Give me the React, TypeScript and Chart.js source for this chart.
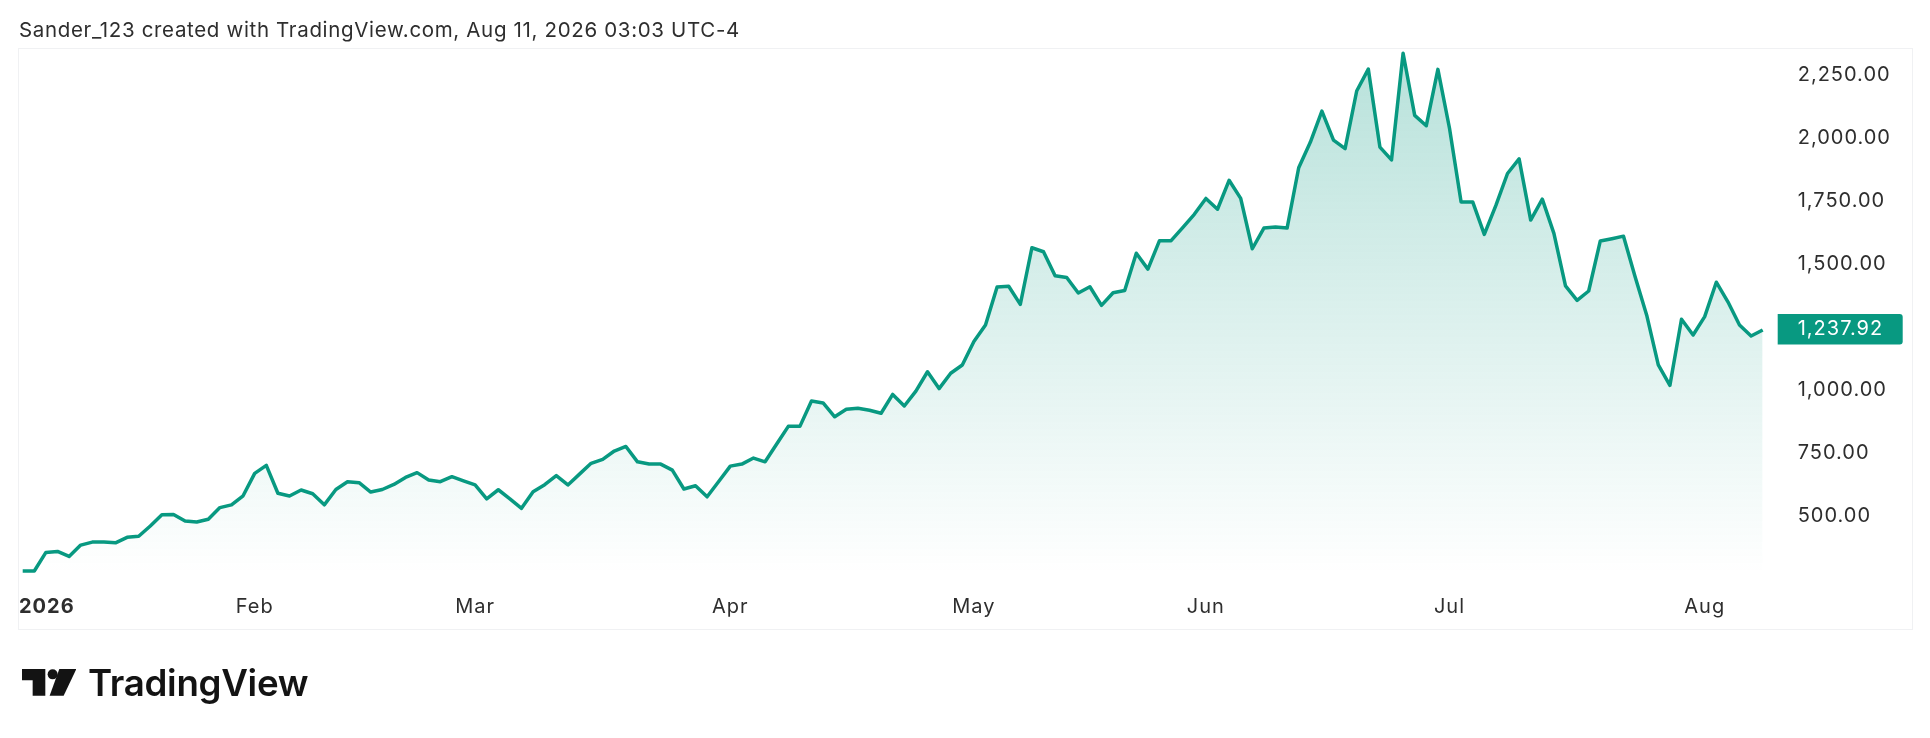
import React, { useEffect, useRef } from "react";
import Chart from "chart.js/auto";
import type { Plugin } from "chart.js";

// trading days, Jan 2 to Aug 10 2026
const tradingDays = [
  "01-02", "01-05", "01-06", "01-07", "01-08", "01-09", "01-12", "01-13", "01-14", "01-15", "01-16",
  "01-20", "01-21", "01-22", "01-23", "01-26", "01-27", "01-28", "01-29", "01-30",
  "02-02", "02-03", "02-04", "02-05", "02-06", "02-09", "02-10", "02-11", "02-12", "02-13",
  "02-17", "02-18", "02-19", "02-20", "02-23", "02-24", "02-25", "02-26", "02-27",
  "03-02", "03-03", "03-04", "03-05", "03-06", "03-09", "03-10", "03-11", "03-12", "03-13",
  "03-16", "03-17", "03-18", "03-19", "03-20", "03-23", "03-24", "03-25", "03-26", "03-27", "03-30", "03-31",
  "04-01", "04-02", "04-06", "04-07", "04-08", "04-09", "04-10", "04-13", "04-14", "04-15", "04-16", "04-17",
  "04-20", "04-21", "04-22", "04-23", "04-24", "04-27", "04-28", "04-29", "04-30",
  "05-01", "05-04", "05-05", "05-06", "05-07", "05-08", "05-11", "05-12", "05-13", "05-14", "05-15",
  "05-18", "05-19", "05-20", "05-21", "05-22", "05-26", "05-27", "05-28", "05-29",
  "06-01", "06-02", "06-03", "06-04", "06-05", "06-08", "06-09", "06-10", "06-11", "06-12",
  "06-15", "06-16", "06-17", "06-18", "06-22", "06-23", "06-24", "06-25", "06-26", "06-29", "06-30",
  "07-01", "07-02", "07-06", "07-07", "07-08", "07-09", "07-10", "07-13", "07-14", "07-15", "07-16", "07-17",
  "07-20", "07-21", "07-22", "07-23", "07-24", "07-27", "07-28", "07-29", "07-30", "07-31",
  "08-03", "08-04", "08-05", "08-06", "08-07", "08-10",
];

const closes = [
  280, 280, 354, 358, 338, 383, 395, 395, 392, 414, 418, 459, 504, 505, 479, 475, 486, 532, 543, 579,
  668, 700, 589, 578, 602, 587, 543, 604, 635, 631, 594, 604, 624, 652, 671, 642, 635, 655, 638, 622,
  567, 603, 567, 529, 595, 623, 659, 622, 665, 708, 724, 757, 775, 714, 705, 705, 681, 606, 619, 575,
  636, 697, 705, 729, 714, 785, 855, 855, 956, 948, 893, 923, 927, 919, 907, 982, 936, 995, 1072, 1005,
  1066, 1099, 1192, 1258, 1409, 1412, 1340, 1565, 1549, 1454, 1447, 1385, 1410, 1336, 1386, 1395, 1543, 1480, 1593, 1593,
  1645, 1698, 1761, 1718, 1833, 1761, 1561, 1643, 1647, 1643, 1883, 1984, 2108, 1993, 1959, 2188, 2275, 1965, 1914, 2338,
  2091, 2050, 2274, 2040, 1747, 1747, 1618, 1733, 1860, 1918, 1675, 1758, 1622, 1413, 1356, 1393, 1592, 1601, 1611, 1450,
  1297, 1099, 1018, 1281, 1218, 1291, 1428, 1350, 1258, 1214, 1237.92,
];

const yearLabel = "2026";
const monthTicks: Record<string, string> = {
  "02-02": "Feb",
  "03-02": "Mar",
  "04-01": "Apr",
  "05-01": "May",
  "06-01": "Jun",
  "07-01": "Jul",
  "08-03": "Aug",
};
const priceTicks = [500, 750, 1000, 1500, 1750, 2000, 2250];

const LINE = "#089981";
const TEXT = "#2e2e2e";
const FONT = "Inter, sans-serif";

const money = (v: number) =>
  v.toLocaleString("en-US", { minimumFractionDigits: 2, maximumFractionDigits: 2 });

// spaced out axis text, year label and last price tag
const axisExtras: Plugin<"line"> = {
  id: "axisExtras",
  beforeDraw(c) {
    (c.ctx as any).letterSpacing = "1px";
  },
  afterDraw(c) {
    const { ctx, chartArea } = c;
    const last = closes[closes.length - 1];
    const y = c.scales.y.getPixelForValue(last);
    ctx.save();
    ctx.fillStyle = LINE;
    ctx.beginPath();
    ctx.roundRect(chartArea.right + 15, y - 16, 125, 30.5, [0, 3, 3, 0]);
    ctx.fill();
    ctx.fillStyle = "#ffffff";
    ctx.font = `20px ${FONT}`;
    ctx.textBaseline = "middle";
    ctx.textAlign = "left";
    ctx.fillText(money(last), chartArea.right + 35, y - 1);

    ctx.fillStyle = TEXT;
    ctx.font = `bold 20px ${FONT}`;
    ctx.fillText(yearLabel, chartArea.left - 3.7, 606.5);
    ctx.restore();
  },
};

export default function App() {
  const canvasRef = useRef<HTMLCanvasElement | null>(null);

  useEffect(() => {
    const ctx = canvasRef.current?.getContext("2d");
    if (!ctx) return;

    const chart = new Chart(ctx, {
      type: "line",
      data: {
        labels: tradingDays,
        datasets: [
          {
            data: closes,
            borderColor: LINE,
            borderWidth: 3.5,
            borderJoinStyle: "round",
            pointRadius: 0,
            tension: 0,
            fill: true,
            backgroundColor: (c: any) => {
              const area = c.chart.chartArea;
              if (!area) return "rgba(8,153,129,0.1)";
              const g = c.chart.ctx.createLinearGradient(0, area.top, 0, area.bottom);
              g.addColorStop(0, "rgba(8,153,129,0.29)");
              g.addColorStop(0.97, "rgba(8,153,129,0)");
              g.addColorStop(1, "rgba(8,153,129,0)");
              return g;
            },
          },
        ],
      },
      options: {
        animation: false,
        responsive: false,
        devicePixelRatio: 1,
        layout: { autoPadding: false, padding: { left: 22.7, top: 50 } },
        plugins: { legend: { display: false }, tooltip: { enabled: false } },
        scales: {
          x: {
            offset: false,
            border: { display: false },
            grid: { display: false },
            afterFit: (s: any) => {
              s.height = 148;
            },
            ticks: {
              autoSkip: false,
              maxRotation: 0,
              padding: -3,
              color: TEXT,
              font: { family: FONT, size: 20 },
              callback(value: any) {
                return monthTicks[tradingDays[value]] ?? "";
              },
            },
          },
          y: {
            position: "right",
            min: 204.5,
            max: 2351,
            border: { display: false },
            grid: { display: false, drawTicks: false },
            afterFit: (s: any) => {
              s.width = 167.3;
            },
            afterBuildTicks: (s: any) => {
              s.ticks = priceTicks.map((value) => ({ value }));
            },
            ticks: {
              color: TEXT,
              crossAlign: "near",
              padding: 35,
              font: { family: FONT, size: 20 },
              callback: (v: any) => money(Number(v)),
            },
          },
        },
      },
      plugins: [axisExtras],
    });

    return () => chart.destroy();
  }, []);

  return (
    <div style={{ position: "fixed", left: 0, top: 0, width: 1930, height: 738, background: "#fff", overflow: "hidden" }}>
      <div
        style={{
          position: "absolute",
          left: 18,
          top: 48,
          width: 1893,
          height: 580,
          border: "1px solid #f0f1f3",
        }}
      />
      <canvas ref={canvasRef} width={1930} height={738} style={{ position: "absolute", left: 0, top: 0, display: "block" }} />
      <div
        style={{
          position: "absolute",
          left: 19,
          top: 17,
          fontFamily: FONT,
          fontSize: 20.5,
          letterSpacing: 0.66,
          color: TEXT,
          whiteSpace: "nowrap",
        }}
      >
        Sander_123 created with TradingView.com, Aug 11, 2026 03:03 UTC-4
      </div>
      <svg style={{ position: "absolute", left: 21.7, top: 669 }} width="54.3" height="26.7" viewBox="35 58 163 80">
        <path d="M35 58H105V138H67V92H35Z" fill="#131313" />
        <circle cx="127" cy="74" r="15" fill="#131313" />
        <path d="M147 58H198L160 138H118Z" fill="#131313" />
      </svg>
      <div
        style={{
          position: "absolute",
          left: 88,
          top: 660,
          fontFamily: "Inter, sans-serif",
          fontWeight: 600,
          fontSize: 36.7,
          letterSpacing: -0.3,
          color: "#131313",
          whiteSpace: "nowrap",
        }}
      >
        TradingView
      </div>
    </div>
  );
}
